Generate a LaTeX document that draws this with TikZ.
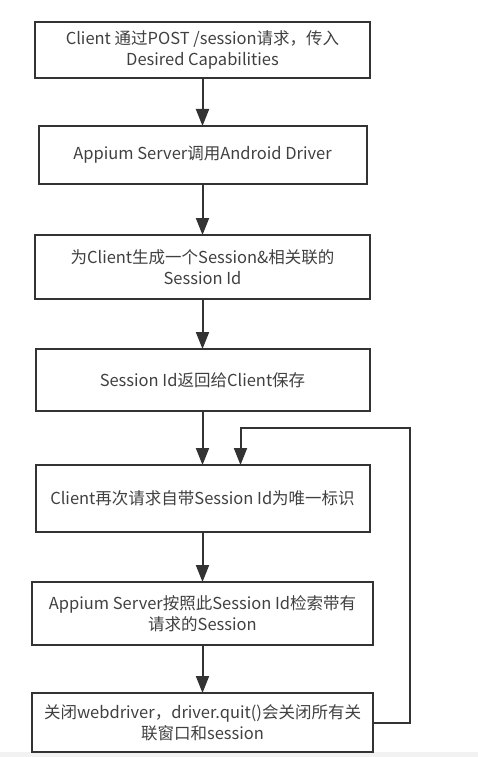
\documentclass[tikz,border=0pt]{standalone}
\usepackage{fontspec}
\setmainfont{Noto Sans CJK SC}
\usetikzlibrary{positioning, arrows.meta}
\definecolor{inkgray}{HTML}{333333}
\definecolor{textgray}{HTML}{404040}
\definecolor{bandgray}{HTML}{F2F2F2}
\tikzset{
	node distance=50pt,
	every text node part/.style= {
		align=center
	},
	stepbox/.style= {
		rectangle,
		draw=inkgray,
		line width=2pt,
		text=textgray,
		font=\fontsize{16.5pt}{21pt}\selectfont,
		inner sep=0pt,
		outer sep=0pt
	},
	flow/.style= {
		draw=inkgray,
		line width=2pt,
		-{Triangle[length=17pt, width=13pt]}
	},
}

\begin{document}
\begin{tikzpicture}
		\useasboundingbox (0,0) rectangle (478pt,-757pt);
		\fill[bandgray] (0,-752pt) rectangle (478pt,-757pt);

		\node (post) [stepbox, minimum width=335pt, minimum height=56pt] at (202.5pt,-50pt) {Client 通过POST /session请求，传入\\Desired Capabilities};
		\node (driver) [stepbox, below = 48pt of post, minimum width=328pt, minimum height=58pt] {Appium Server调用Android Driver};
		\node (create) [stepbox, below = 51pt of driver, minimum width=335pt, minimum height=64pt] {为Client生成一个Session\&相关联的\\Session Id};
		\node (reply) [stepbox, below = of create, minimum width=334pt, minimum height=62pt] {Session Id返回给Client保存};
		\node (again) [stepbox, below = 54pt of reply, minimum width=334pt, minimum height=67pt] {Client再次请求自带Session Id为唯一标识};
		\node (lookup) [stepbox, below = of again, minimum width=341pt, minimum height=63pt] {Appium Server按照此Session Id检索带有\\请求的Session};
		\node (close) [stepbox, below = 48pt of lookup, minimum width=341pt, minimum height=59pt] {关闭webdriver，driver.quit()会关闭所有关\\联窗口和session};

		\coordinate (loopside) at ([xshift=37pt]close.east);
		\coordinate (looptop) at ([xshift=38pt, yshift=37pt]again.north);

		\draw[flow] (post) to (driver);
		\draw[flow] (driver) to (create);
		\draw[flow] (create) to (reply);
		\draw[flow] (reply) to (again);
		\draw[flow] (again) to (lookup);
		\draw[flow] (lookup) to (close);
		\draw[flow] (close.east) -- (loopside) |- (looptop) -- (looptop |- again.north);
		\end{tikzpicture}
\end{document}
